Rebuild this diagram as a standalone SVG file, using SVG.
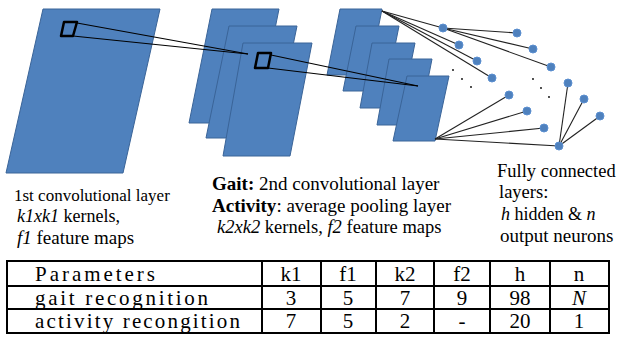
<svg xmlns="http://www.w3.org/2000/svg" width="622" height="361" viewBox="0 0 622 361">
<style>
.sheet{fill:#4F81BD;stroke:#3A6498;stroke-width:1}
.kern{fill:none;stroke:#000;stroke-width:2.5;stroke-linejoin:round}
.ln{stroke:#000;stroke-width:1.2;fill:none}
.fc{stroke:#222;stroke-width:1.1;fill:none}
.neu{fill:#4F81BD;stroke:#5B8FD0;stroke-width:1}
.dot{fill:#000}
.grid{stroke:#000;stroke-width:2;fill:none}
</style>
<rect width="622" height="361" fill="#fff"/>
<g id="layer1">
<polygon class="sheet" points="43,9 160,9 123,173 6,173"/>
</g>
<g id="layer2">
<polygon class="sheet" points="212,9 279,9 256,123 189,123"/>
<polygon class="sheet" points="229,26 297,26 274,138 206,138"/>
<polygon class="sheet" points="243,43 312,43 290,156 223,156"/>
</g>
<g id="layer3">
<polygon class="sheet" points="340,9 382,9 369,75 327,75"/>
<polygon class="sheet" points="356,26 399,26 386,91 343,91"/>
<polygon class="sheet" points="372,43 415,43 402,108 360,108"/>
<polygon class="sheet" points="389,59 432,59 419,125 377,125"/>
<polygon class="sheet" points="407,76 449,76 435,141 393,141"/>
</g>
<g id="connectors">
<line class="ln" x1="77" y1="23" x2="248" y2="54"/>
<line class="ln" x1="73" y1="36" x2="248" y2="54"/>
<line class="ln" x1="271" y1="55" x2="418" y2="86"/>
<line class="ln" x1="268" y1="68" x2="418" y2="86"/>
<line class="fc" x1="382" y1="11" x2="443" y2="28"/>
<line class="fc" x1="382" y1="11" x2="459" y2="45"/>
<line class="fc" x1="382" y1="11" x2="477" y2="61"/>
<line class="fc" x1="382" y1="11" x2="492" y2="78"/>
<line class="fc" x1="435" y1="139" x2="509" y2="95"/>
<line class="fc" x1="435" y1="139" x2="527" y2="111"/>
<line class="fc" x1="435" y1="139" x2="544" y2="128"/>
<line class="fc" x1="435" y1="139" x2="559" y2="146"/>
<line class="fc" x1="443" y1="28" x2="517" y2="33"/>
<line class="fc" x1="443" y1="28" x2="533" y2="49"/>
<line class="fc" x1="443" y1="28" x2="551" y2="67"/>
<line class="fc" x1="559" y1="146" x2="568" y2="83"/>
<line class="fc" x1="559" y1="146" x2="584" y2="99"/>
<line class="fc" x1="559" y1="146" x2="600" y2="116"/>
</g>
<g id="kernel1"><polygon class="kern" points="64,22 77,22 73,36 61,36"/></g>
<g id="kernel2"><polygon class="kern" points="258,53 271,53 268,68 255,68"/></g>
<g id="hidden1">
<circle class="neu" cx="443" cy="28" r="4"/>
<circle class="neu" cx="459" cy="45" r="4"/>
<circle class="neu" cx="477" cy="61" r="4"/>
<circle class="neu" cx="492" cy="78" r="4"/>
<circle class="neu" cx="509" cy="95" r="4"/>
<circle class="neu" cx="527" cy="111" r="4"/>
<circle class="neu" cx="544" cy="128" r="4"/>
<circle class="dot" cx="453" cy="70" r="0.9"/>
<circle class="dot" cx="462" cy="79" r="0.9"/>
<circle class="dot" cx="471" cy="87" r="0.9"/>
</g>
<g id="hidden2">
<circle class="neu" cx="517" cy="33" r="4"/>
<circle class="neu" cx="533" cy="49" r="4"/>
<circle class="neu" cx="551" cy="67" r="4"/>
<circle class="neu" cx="568" cy="83" r="4"/>
<circle class="neu" cx="584" cy="99" r="4"/>
<circle class="neu" cx="600" cy="116" r="4"/>
<circle class="dot" cx="533" cy="79" r="0.9"/>
<circle class="dot" cx="541" cy="88" r="0.9"/>
<circle class="dot" cx="549" cy="97" r="0.9"/>
</g>
<g id="output"><circle class="neu" cx="559" cy="146" r="4"/></g>
<g id="label1">
<text font-family="Liberation Serif" font-size="17" x="14" y="201">1st convolutional layer</text>
<text font-family="Liberation Serif" font-size="18" x="17" y="222"><tspan font-style="italic">k1xk1</tspan> kernels,</text>
<text font-family="Liberation Serif" font-size="19" x="17" y="244"><tspan font-style="italic">f1</tspan> feature maps</text>
</g>
<g id="label2">
<text font-family="Liberation Serif" font-size="19" x="212" y="190"><tspan font-weight="bold">Gait:</tspan> 2nd convolutional layer</text>
<text font-family="Liberation Serif" font-size="19" x="212" y="212"><tspan font-weight="bold">Activity</tspan>: average pooling layer</text>
<text font-family="Liberation Serif" font-size="18.5" x="217" y="233"><tspan font-style="italic">k2xk2</tspan> kernels, <tspan font-style="italic">f2</tspan> feature maps</text>
</g>
<g id="label3">
<text font-family="Liberation Serif" font-size="18.5" x="497" y="177">Fully connected</text>
<text font-family="Liberation Serif" font-size="18.5" x="499" y="198">layers:</text>
<text font-family="Liberation Serif" font-size="18" x="501" y="220"><tspan font-style="italic">h</tspan> hidden &amp; <tspan font-style="italic">n</tspan></text>
<text font-family="Liberation Serif" font-size="19" x="500" y="242">output neurons</text>
</g>
<g id="table">
<rect class="grid" x="7" y="261" width="602" height="72"/>
<line class="grid" x1="7" y1="286" x2="609" y2="286"/>
<line class="grid" x1="7" y1="309" x2="609" y2="309"/>
<line class="grid" x1="262" y1="261" x2="262" y2="333"/>
<line class="grid" x1="321" y1="261" x2="321" y2="333"/>
<line class="grid" x1="376" y1="261" x2="376" y2="333"/>
<line class="grid" x1="434" y1="261" x2="434" y2="333"/>
<line class="grid" x1="490" y1="261" x2="490" y2="333"/>
<line class="grid" x1="550" y1="261" x2="550" y2="333"/>
<text font-family="Liberation Serif" font-size="21" x="35" y="281" textLength="120" lengthAdjust="spacing">Parameters</text>
<text font-family="Liberation Serif" font-size="21" x="35" y="304.5" textLength="173" lengthAdjust="spacing">gait recognition</text>
<text font-family="Liberation Serif" font-size="21" x="35" y="328" textLength="205" lengthAdjust="spacing">activity recongition</text>
<g text-anchor="middle" font-family="Liberation Serif" font-size="21">
<text x="291" y="281" font-family="Liberation Serif">k1</text>
<text x="348" y="281" font-family="Liberation Serif">f1</text>
<text x="405" y="281" font-family="Liberation Serif">k2</text>
<text x="462" y="281" font-family="Liberation Serif">f2</text>
<text x="520" y="281" font-family="Liberation Serif">h</text>
<text x="579" y="281" font-family="Liberation Serif">n</text>
<text x="291" y="304.5" font-family="Liberation Serif">3</text>
<text x="348" y="304.5" font-family="Liberation Serif">5</text>
<text x="405" y="304.5" font-family="Liberation Serif">7</text>
<text x="462" y="304.5" font-family="Liberation Serif">9</text>
<text x="520" y="304.5" font-family="Liberation Serif">98</text>
<text x="579" y="304.5" font-family="Liberation Serif" font-style="italic">N</text>
<text x="291" y="328" font-family="Liberation Serif">7</text>
<text x="348" y="328" font-family="Liberation Serif">5</text>
<text x="405" y="328" font-family="Liberation Serif">2</text>
<text x="462" y="328" font-family="Liberation Serif">-</text>
<text x="520" y="328" font-family="Liberation Serif">20</text>
<text x="579" y="328" font-family="Liberation Serif">1</text>
</g>
</g>
</svg>
